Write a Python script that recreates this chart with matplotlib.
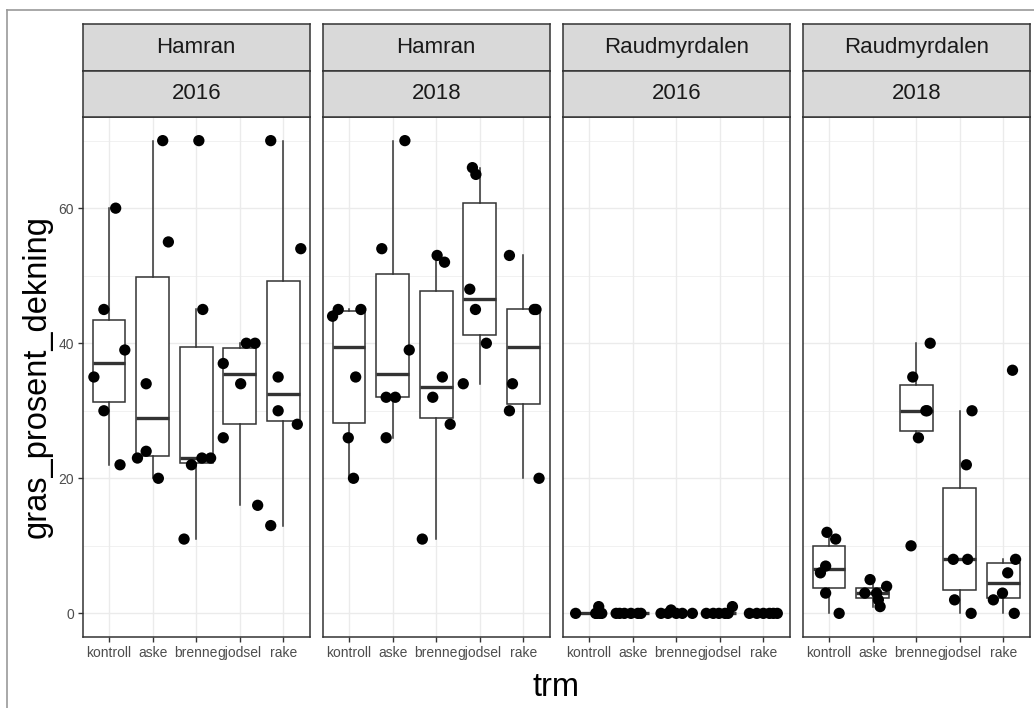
import matplotlib.pyplot as plt
import numpy as np
from matplotlib.lines import Line2D

plt.rcParams["font.family"] = ["Liberation Sans", "DejaVu Sans"]

# behandlinger langs x-aksen
trm = ["kontroll", "aske", "brenne", "gjodsel", "rake"]

# fasetter: lokalitet / år
lokalitet = ["Hamran", "Hamran", "Raudmyrdalen", "Raudmyrdalen"]
aar = ["2016", "2018", "2016", "2018"]

# gras_prosent_dekning per behandling (6 ruter hver)
hamran_2016 = [
    [60, 45, 39, 35, 30, 22],
    [70, 55, 34, 24, 23, 20],
    [70, 45, 23, 23, 22, 11],
    [37, 34, 40, 40, 26, 16],
    [70, 54, 35, 30, 28, 13],
]
hamran_2018 = [
    [44, 45, 45, 35, 26, 20],
    [70, 54, 39, 32, 32, 26],
    [53, 52, 35, 32, 28, 11],
    [66, 65, 48, 45, 40, 34],
    [53, 45, 45, 34, 30, 20],
]
raud_2016 = [
    [0, 0, 1, 0, 0, 0],
    [0, 0, 0, 0, 0, 0],
    [0, 0, 0.5, 0, 0, 0],
    [0, 0, 0, 0, 0, 1],
    [0, 0, 0, 0, 0, 0],
]
raud_2018 = [
    [12, 11, 7, 6, 3, 0],
    [5, 4, 3, 3, 2, 1],
    [40, 35, 30, 30, 26, 10],
    [30, 22, 8, 8, 2, 0],
    [36, 8, 6, 3, 2, 0],
]

# jitter-forskyvning (x) for hvert punkt, samme rekkefølge som verdiene
jit_h16 = [
    [0.15, -0.12, 0.36, -0.35, -0.12, 0.25],
    [0.23, 0.36, -0.15, -0.15, -0.35, 0.13],
    [0.06, 0.15, 0.33, 0.13, -0.11, -0.28],
    [-0.38, 0.02, 0.15, 0.35, -0.38, 0.41],
    [-0.29, 0.40, -0.12, -0.12, 0.32, -0.29],
]
jit_h18 = [
    [-0.38, -0.25, 0.27, 0.15, -0.02, 0.10],
    [0.28, -0.25, 0.38, -0.15, 0.06, -0.15],
    [0.02, 0.19, 0.14, -0.08, 0.32, -0.32],
    [-0.17, -0.09, -0.23, -0.10, 0.15, -0.38],
    [-0.32, 0.25, 0.29, -0.25, -0.32, 0.36],
]
jit_r16 = [
    [-0.31, 0.15, 0.22, 0.29, 0.18, 0.25],
    [-0.38, -0.30, -0.19, -0.04, 0.12, 0.19],
    [-0.35, -0.19, -0.12, 0.0, 0.14, 0.37],
    [-0.31, -0.15, -0.02, 0.12, 0.19, 0.29],
    [-0.32, -0.15, 0.0, 0.14, 0.23, 0.32],
]
jit_r18 = [
    [-0.05, 0.15, -0.08, -0.20, -0.08, 0.23],
    [-0.06, 0.32, -0.18, 0.09, 0.13, 0.17],
    [0.32, -0.08, 0.25, 0.22, 0.05, -0.12],
    [0.28, 0.15, -0.15, 0.18, -0.12, 0.26],
    [0.21, 0.28, 0.10, -0.02, -0.23, 0.25],
]

paneler = [hamran_2016, hamran_2018, raud_2016, raud_2018]
jitter = [jit_h16, jit_h18, jit_r16, jit_r18]

W, H = 1034, 708
fig = plt.figure(figsize=(W / 100, H / 100), dpi=100)


def px_axes(x0, y0, x1, y1):
    """Akser fra pikselkoordinater (topp-venstre origo)."""
    return fig.add_axes([x0 / W, 1 - y1 / H, (x1 - x0) / W, (y1 - y0) / H])


# ramme rundt hele plottet
fig.add_artist(Line2D([7 / W, 7 / W], [0, 1 - 10 / H], color="#9a9a9a", lw=1.2))
fig.add_artist(Line2D([7 / W, 1], [1 - 10 / H, 1 - 10 / H], color="#9a9a9a", lw=1.2))

EDGE = "#333333"
GRID = "#EBEBEB"
lefts = [83, 323, 563, 803]
pw = 226.5
ptop, pbot = 117, 637
smid, stop = 70.5, 24

for i, (data, jit) in enumerate(zip(paneler, jitter)):
    x0 = lefts[i]
    ax = px_axes(x0, ptop, x0 + pw, pbot)

    ax.boxplot(
        data,
        positions=range(1, 6),
        widths=0.75,
        whis=1.5,
        showfliers=False,
        showcaps=False,
        patch_artist=True,
        manage_ticks=False,
        boxprops=dict(facecolor="white", edgecolor=EDGE, linewidth=1.1),
        whiskerprops=dict(color=EDGE, linewidth=1.1),
        medianprops=dict(color=EDGE, linewidth=2.4, solid_capstyle="butt"),
        zorder=2,
    )

    for k, (vals, offs) in enumerate(zip(data, jit)):
        xs = np.array(offs) + k + 1
        ax.scatter(xs, vals, s=66, color="black", edgecolors="none", zorder=3)

    ax.set_xlim(0.4, 5.6)
    ax.set_ylim(-3.5, 73.5)
    ax.set_yticks([0, 20, 40, 60])
    ax.set_yticks([10, 30, 50, 70], minor=True)
    ax.set_xticks(range(1, 6))
    ax.set_xticklabels(trm)
    ax.grid(which="major", color=GRID, lw=1.0, zorder=0)
    ax.grid(which="minor", axis="y", color=GRID, lw=0.5, zorder=0)
    ax.set_axisbelow(True)
    ax.tick_params(which="minor", length=0)
    ax.tick_params(which="major", length=3.5, width=1.0, color=EDGE,
                   labelsize=10, labelcolor="#4D4D4D", pad=3)
    if i > 0:
        ax.tick_params(axis="y", which="both", length=0, labelleft=False)
    for s in ax.spines.values():
        s.set_color(EDGE)
        s.set_linewidth(1.1)

    # to stripe-felt: lokalitet over, år under
    for (ya, yb), label in [((stop, smid), lokalitet[i]), ((smid, ptop), aar[i])]:
        sx = px_axes(x0, ya, x0 + pw, yb)
        sx.set_facecolor("#D9D9D9")
        sx.set_xticks([])
        sx.set_yticks([])
        for s in sx.spines.values():
            s.set_color(EDGE)
            s.set_linewidth(1.1)
        sx.text(0.5, 0.5, label, ha="center", va="center", fontsize=16,
                color="#1A1A1A", transform=sx.transAxes)

fig.text(37 / W, 1 - 377 / H, "gras_prosent_dekning", rotation=90,
         ha="center", va="center", fontsize=23.5, color="black")
fig.text(556 / W, 1 - 687 / H, "trm", ha="center", va="center",
         fontsize=23.5, color="black")

fig.savefig("out.png", dpi=100)
